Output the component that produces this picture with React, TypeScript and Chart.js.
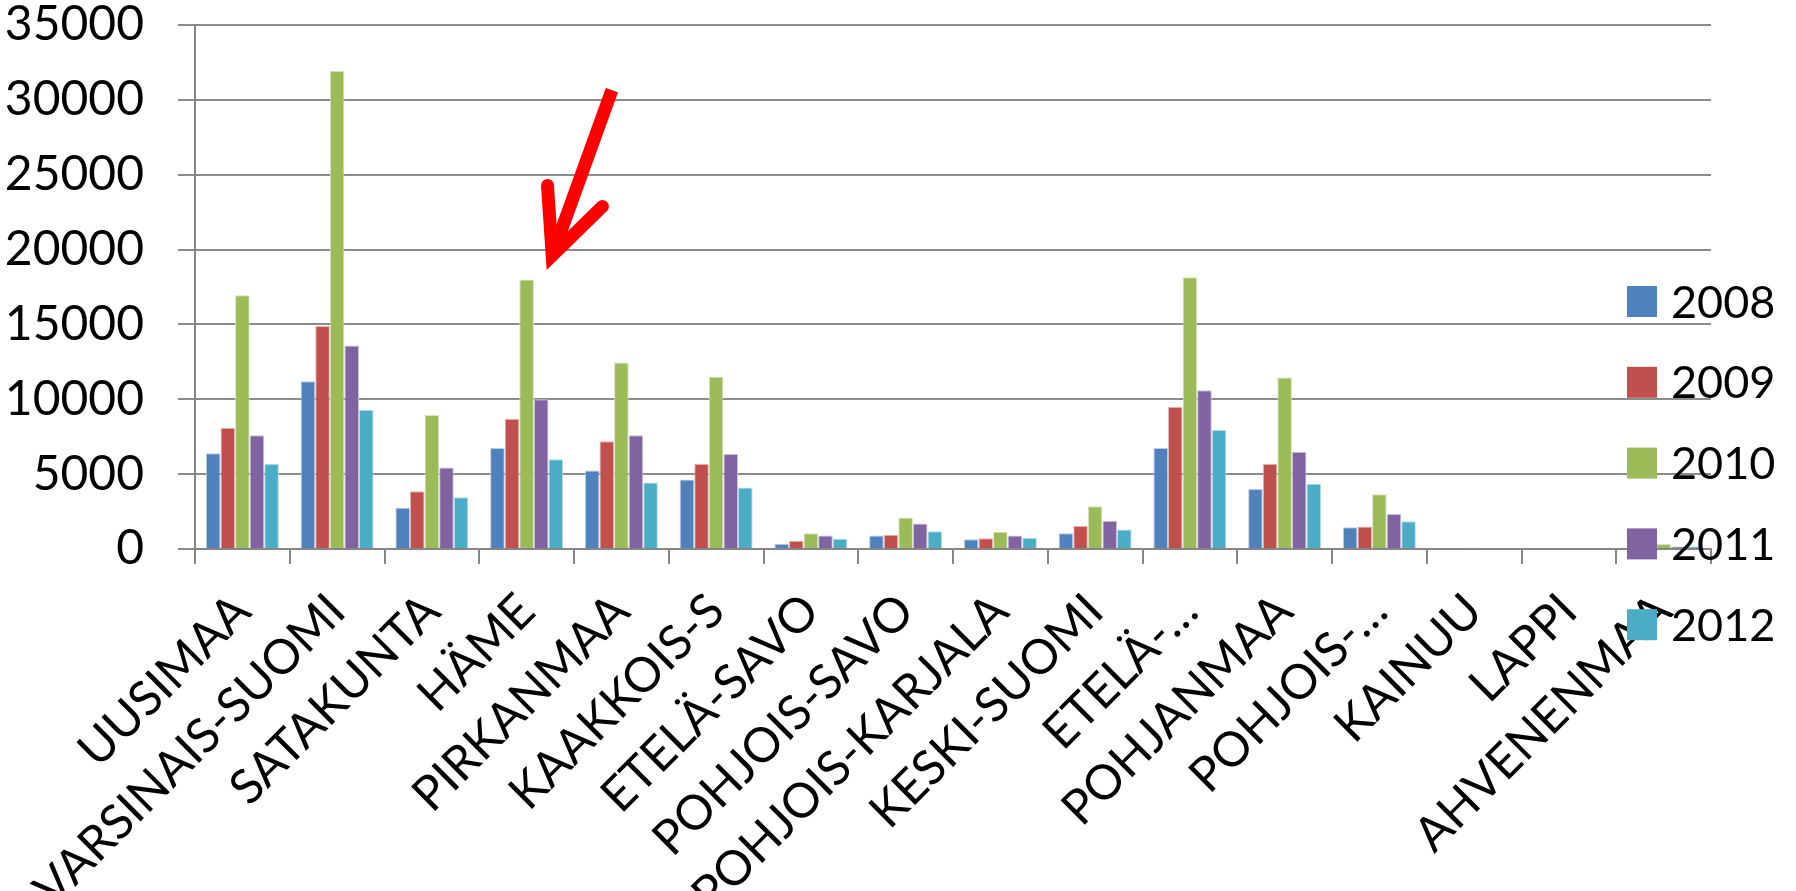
import React, { useEffect, useRef } from 'react';
import { Chart, registerables } from 'chart.js';

Chart.register(...registerables);

const regions = [
  'UUSIMAA', 'VARSINAIS-SUOMI', 'SATAKUNTA', 'HÄME', 'PIRKANMAA', 'KAAKKOIS-S',
  'ETELÄ-SAVO', 'POHJOIS-SAVO', 'POHJOIS-KARJALA', 'KESKI-SUOMI', 'ETELÄ-…',
  'POHJANMAA', 'POHJOIS-…', 'KAINUU', 'LAPPI', 'AHVENENMAA',
];
const years = ['2008', '2009', '2010', '2011', '2012'];
const v2008 = [6400, 11200, 2750, 6750, 5250, 4650, 350, 900, 650, 1050, 6750, 4000, 1450, 0, 0, 220];
const v2009 = [8100, 14900, 3850, 8700, 7200, 5700, 550, 950, 720, 1550, 9500, 5700, 1500, 0, 0, 0];
const v2010 = [16950, 31950, 8950, 18000, 12450, 11500, 1050, 2100, 1150, 2850, 18150, 11450, 3650, 90, 0, 330];
const v2011 = [7600, 13600, 5450, 10000, 7600, 6350, 900, 1700, 900, 1880, 10600, 6500, 2330, 0, 0, 160];
const v2012 = [5700, 9300, 3450, 6000, 4450, 4100, 680, 1180, 750, 1300, 7950, 4350, 1850, 0, 0, 160];
const seriesValues = [v2008, v2009, v2010, v2011, v2012];
const colors = ['#4F81BD', '#C0504D', '#9BBB59', '#8064A2', '#4BACC6'];
const edgeColors = ['#B9CDE5', '#E6B9B8', '#D7E4BD', '#CCC1DA', '#B7DEE8'];
const yMax = 35000;
const yStep = 5000;

// arrow annotation in data space: [category index, value]
const arrowTail = [3.9, 30650];
const arrowTip = [3.27, 19600];
const arrowWingL = [3.22, 24280];
const arrowWingR = [3.8, 22880];

const FONT = 'Lato, "Open Sans", sans-serif';

const arrowPlugin = {
  id: 'arrowPlugin',
  afterDraw(chart: any) {
    const { ctx, scales } = chart;
    const px = (p: number[]) => [scales.x.getPixelForValue(p[0]), scales.y.getPixelForValue(p[1])];
    const t = px(arrowTail), tip = px(arrowTip), l = px(arrowWingL), r = px(arrowWingR);
    ctx.save();
    ctx.strokeStyle = '#FF0000';
    ctx.lineWidth = 13;
    ctx.lineCap = 'butt';
    ctx.beginPath();
    ctx.moveTo(t[0], t[1]);
    ctx.lineTo(tip[0], tip[1]);
    ctx.stroke();
    ctx.lineCap = 'round';
    ctx.lineJoin = 'miter';
    ctx.miterLimit = 10;
    ctx.beginPath();
    ctx.moveTo(l[0], l[1]);
    ctx.lineTo(tip[0], tip[1]);
    ctx.lineTo(r[0], r[1]);
    ctx.stroke();
    ctx.restore();
  },
};

const legendPlugin = {
  id: 'sideLegend',
  afterDraw(chart: any) {
    const { ctx } = chart;
    ctx.save();
    ctx.font = `45px ${FONT}`;
    ctx.textBaseline = 'middle';
    ctx.textAlign = 'left';
    chart.data.datasets.forEach((ds: any, i: number) => {
      const cy = 301 + i * 80.8;
      ctx.fillStyle = ds.backgroundColor;
      ctx.fillRect(1627, cy - 15, 30, 31);
      ctx.fillStyle = '#000';
      ctx.fillText(ds.label, 1671, cy + 2);
    });
    ctx.restore();
  },
};

export default function App() {
  const ref = useRef<HTMLCanvasElement>(null);
  useEffect(() => {
    document.body.style.margin = '0';
    const chart = new Chart(ref.current as HTMLCanvasElement, {
      type: 'bar',
      data: {
        labels: regions,
        datasets: years.map((y, i) => ({
          label: y,
          data: seriesValues[i],
          backgroundColor: colors[i],
          borderColor: edgeColors[i],
          borderWidth: 1,
          categoryPercentage: 0.77,
          barPercentage: 1,
        })),
      },
      options: {
        responsive: false,
        animation: false,
        devicePixelRatio: 1,
        layout: { padding: { left: 0, right: 85, top: 25, bottom: 0 } },
        plugins: { legend: { display: false }, tooltip: { enabled: false } },
        scales: {
          x: {
            grid: { drawOnChartArea: false, drawTicks: true, tickLength: 15, color: '#868686', lineWidth: 2 },
            border: { color: '#868686', width: 2 },
            ticks: {
              color: '#000',
              font: { family: FONT, size: 48, lineHeight: 1.0 },
              minRotation: 45,
              maxRotation: 45,
              autoSkip: false,
              padding: 22,
            },
            afterFit(scale: any) {
              scale.height = 342;
              scale.paddingLeft = 0;
              scale.paddingRight = 0;
            },
          },
          y: {
            min: 0,
            max: yMax,
            grid: { color: '#8C8C8C', lineWidth: 2, tickLength: 17 },
            border: { color: '#868686', width: 2 },
            ticks: {
              stepSize: yStep,
              color: '#000',
              font: { family: FONT, size: 48, lineHeight: 1.0 },
              padding: 34,
              callback: (v: any) => String(v),
            },
            afterFit(scale: any) {
              scale.width = 195;
              scale.paddingTop = 0;
              scale.paddingBottom = 0;
            },
          },
        },
      },
      plugins: [arrowPlugin, legendPlugin],
    } as any);
    return () => chart.destroy();
  }, []);
  return (
    <div style={{ position: 'absolute', left: 0, top: 0, width: 1796, height: 891, background: '#fff' }}>
      <canvas ref={ref} width={1796} height={891} />
    </div>
  );
}
